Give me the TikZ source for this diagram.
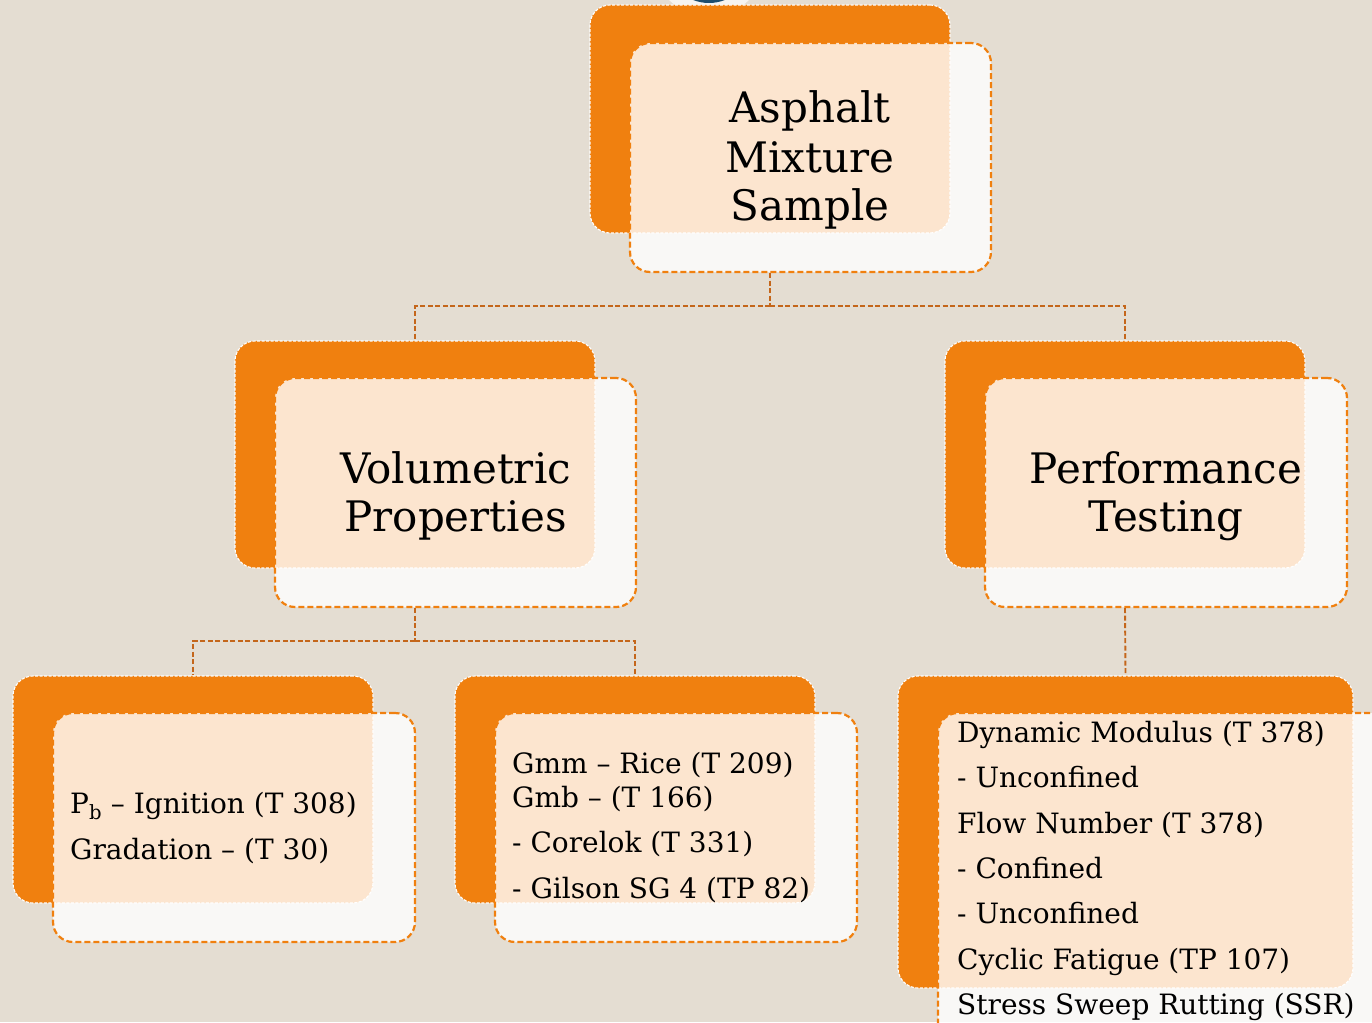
\documentclass[tikz,border=0pt]{standalone}
\usepackage{fontspec}
\setmainfont{DejaVu Serif}
\definecolor{bgc}{HTML}{E4DDD2}
\definecolor{orng}{HTML}{F0800F}
\definecolor{connc}{HTML}{C4661B}
\definecolor{navy}{HTML}{1E4E6E}
\tikzset{
  backbox/.style={rectangle, rounded corners=20pt, fill=orng, draw=white,
    line width=1.1pt, dash pattern=on 3pt off 1.5pt, inner sep=0pt},
  frontbox/.style={rectangle, rounded corners=20pt, fill=white, fill opacity=0.8,
    draw=orng, draw opacity=1, line width=2.2pt, dash pattern=on 6pt off 3pt, inner sep=0pt},
  conn/.style={draw=connc, line width=1.9pt, dash pattern=on 5pt off 2.5pt},
  bigtxt/.style={font=\fontsize{42}{48}\selectfont, inner sep=0pt, anchor=base},
  smalltxt/.style={font=\fontsize{28}{33}\selectfont, inner sep=0pt, anchor=base west},
}
\begin{document}
\begin{tikzpicture}[x=1pt, y=-1pt]
\path[use as bounding box, fill=bgc] (0,0) rectangle (1372,1022);
\clip (0,0) rectangle (1372,1022);
% partial circle at top edge
\node[circle, fill=white, fill opacity=0.7, minimum size=113pt, inner sep=0pt] (topring) at (709,-40) {};
\node[circle, fill=navy, minimum size=86pt, inner sep=0pt] (topdot) at (709,-40) {};
% boxes
\node[backbox, minimum width=360pt, minimum height=228pt] (b1) at (770,119) {};
\node[frontbox, minimum width=361pt, minimum height=229pt] (f1) at (810.5,157.5) {};
\node[backbox, minimum width=360pt, minimum height=227pt] (b2) at (415,454.5) {};
\node[frontbox, minimum width=361pt, minimum height=229pt] (f2) at (455.5,492.5) {};
\node[backbox, minimum width=360pt, minimum height=227pt] (b3) at (1125,454.5) {};
\node[frontbox, minimum width=362pt, minimum height=229pt] (f3) at (1166,492.5) {};
\node[backbox, minimum width=360pt, minimum height=227pt] (b4) at (193,789.5) {};
\node[frontbox, minimum width=362pt, minimum height=229pt] (f4) at (234,827.5) {};
\node[backbox, minimum width=360pt, minimum height=227pt] (b5) at (635,789.5) {};
\node[frontbox, minimum width=362pt, minimum height=229pt] (f5) at (676,827.5) {};
\node[backbox, minimum width=455pt, minimum height=312pt] (b6) at (1125.5,832) {};
\node[frontbox, minimum width=470pt, minimum height=340pt] (f6) at (1173,883) {};
% connectors
\coordinate (j1) at (770,306);
\coordinate (j2) at (415,641);
\draw[conn] (b1.south |- f1.south) -- (j1);
\draw[conn] (j1) -| (b2.north);
\draw[conn] (j1) -| (b3.north);
\draw[conn] (b2.south |- f2.south) -- (j2);
\draw[conn] (j2) -| (b4.north);
\draw[conn] (j2) -| (b5.north);
\draw[conn] (b3.south |- f3.south) -- (b6.north);
% texts
\node[bigtxt] (t1a) at (810,123) {Asphalt};
\node[bigtxt] (t1b) at (810,172) {Mixture};
\node[bigtxt] (t1c) at (810,220) {Sample};
\node[bigtxt] (t2a) at (455.5,483) {Volumetric};
\node[bigtxt] (t2b) at (455.5,531) {Properties};
\node[bigtxt] (t3a) at (1166,483) {Performance};
\node[bigtxt] (t3b) at (1166,531) {Testing};
\node[smalltxt] (t4a) at (70,813) {P\textsubscript{b} – Ignition (T 308)};
\node[smalltxt] (t4b) at (70,859) {Gradation – (T 30)};
\node[smalltxt] (t5a) at (512,773) {Gmm – Rice (T 209)};
\node[smalltxt] (t5b) at (512,807) {Gmb – (T 166)};
\node[smalltxt] (t5c) at (512,852) {- Corelok (T 331)};
\node[smalltxt] (t5d) at (512,898) {- Gilson SG 4 (TP 82)};
\node[smalltxt] (t6a) at (957,742) {Dynamic Modulus (T 378)};
\node[smalltxt] (t6b) at (957,787) {- Unconfined};
\node[smalltxt] (t6c) at (957,833) {Flow Number (T 378)};
\node[smalltxt] (t6d) at (957,878) {- Confined};
\node[smalltxt] (t6e) at (957,923) {- Unconfined};
\node[smalltxt] (t6f) at (957,969) {Cyclic Fatigue (TP 107)};
\node[smalltxt] (t6g) at (957,1014) {Stress Sweep Rutting (SSR)};
\end{tikzpicture}
\end{document}
